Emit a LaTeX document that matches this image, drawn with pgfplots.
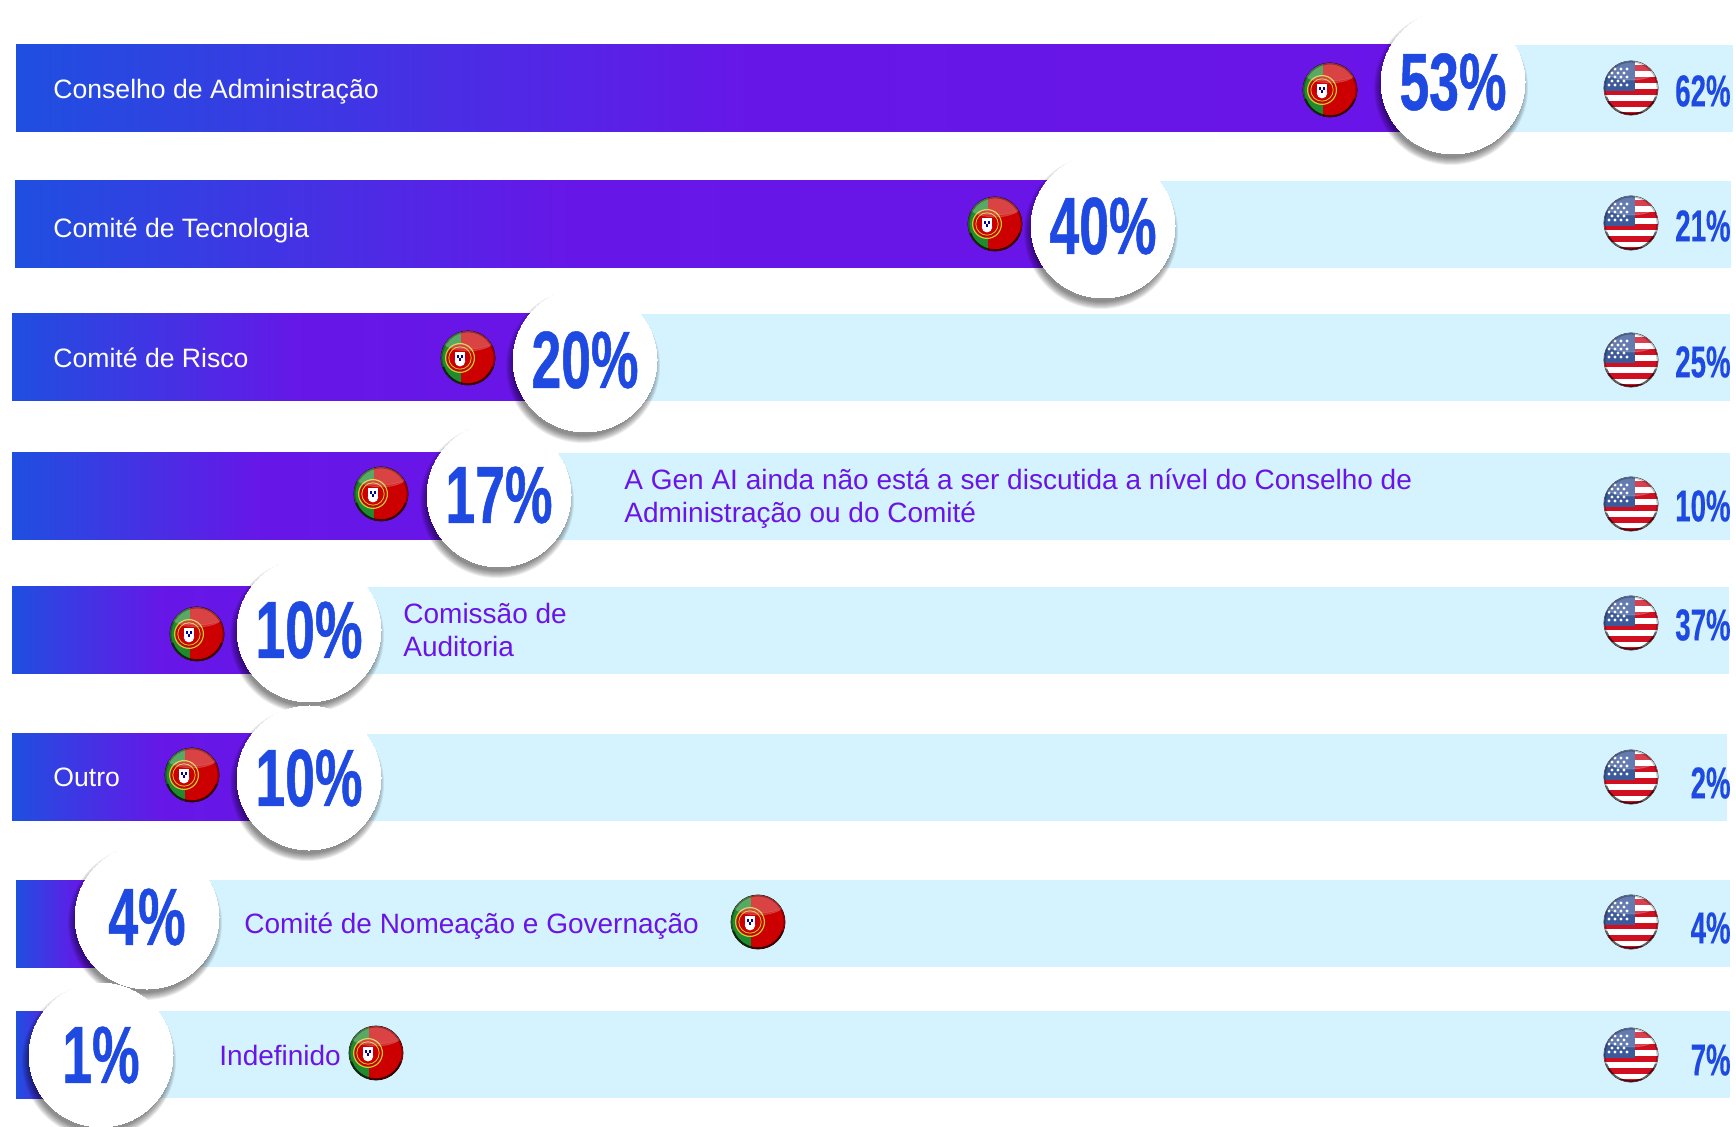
\documentclass[border=0pt]{standalone}
\usepackage{fontspec}
\setmainfont{Liberation Sans}
\newfontfamily\cond[FakeStretch=0.66,FakeBold=0.6]{Liberation Sans}
\newfontfamily\condsmall[FakeStretch=0.62,FakeBold=0.3]{Liberation Sans}
\usepackage{pgfplots}
\usepackage{pgfplotstable}
\pgfplotsset{compat=1.18}

\definecolor{barblue}{HTML}{1F4FE0}
\definecolor{barpurple}{HTML}{6A14E8}
\definecolor{barlight}{HTML}{D5F3FF}
\definecolor{numblue}{HTML}{1F4AE2}
\definecolor{ptred}{HTML}{CC0000}
\definecolor{ptgreen}{HTML}{1F8A2E}
\definecolor{usblue}{HTML}{3C5A9A}
\definecolor{usred}{HTML}{D01020}

% one row per category, positions in pixels of the 1736x1127 picture
% cx,cy circle; fx,fy flag PT; uy flag US; ul label US
\pgfplotstableread{
cx   cy   pt fx   fy   uy   ul   us
1453 82   53 1330 90   88   91   62
1103 226  40 995  224  223  226  21
585  360  20 468  358  360  362  25
499  495  17 381  494  504  506  10
309  630  10 197  634  623  625  37
309  778  10 192  775  777  783  2
147  917  4  758  922  922  928  4
101  1055 1  376  1053 1055 1060 7
}\datatable

\pgfdeclareplotmark{ptflag}{%
  \begin{scope}
    \clip (0,0) circle (13.5pt);
    \fill[ptred] (-14pt,-14pt) rectangle (14pt,14pt);
    \fill[ptgreen] (-14pt,-14pt) rectangle (-4pt,14pt);
    \fill[ptred] (-4pt,0pt) circle (6.6pt);
    \draw[yellow!80!black,line width=.6pt] (-4pt,0pt) circle (7.2pt);
    \draw[yellow!80!black,line width=.4pt] (-4pt,0pt) circle (5.6pt);
    \fill[white] (-6.4pt,2.6pt) rectangle (-1.6pt,-1.6pt);
    \fill[white] (-4pt,-1.6pt) circle (2.4pt);
    \fill[blue!60!black] (-5.4pt,.2pt) rectangle (-4.6pt,1.2pt);
    \fill[blue!60!black] (-3.4pt,.2pt) rectangle (-2.6pt,1.2pt);
    \fill[blue!60!black] (-4.4pt,-1.4pt) rectangle (-3.6pt,-.4pt);
    \fill[white,opacity=.16] (0pt,10pt) ellipse (14pt and 6.5pt);
    \fill[white,opacity=.12] (0pt,9pt) ellipse (13pt and 4.5pt);
    \draw[black,opacity=.3,line width=.8pt] (0,0) circle (13.2pt);
    \draw[black,opacity=.6,line width=1.1pt] (-160:13.2pt) arc (-160:-20:13.2pt);
  \end{scope}
}
\pgfdeclareplotmark{usflag}{%
  \begin{scope}
    \clip (0,0) circle (13.5pt);
    \fill[white] (-14pt,-14pt) rectangle (14pt,14pt);
    \fill[usred] (-14pt,11.2pt) rectangle (14pt,8.6pt);
    \fill[usred] (-14pt,5.4pt) rectangle (14pt,2.8pt);
    \fill[usred] (-14pt,-.6pt) rectangle (14pt,-3.2pt);
    \fill[usred] (-14pt,-6.6pt) rectangle (14pt,-9.2pt);
    \fill[usred] (-14pt,-12pt) rectangle (14pt,-14pt);
    \fill[usblue] (-14pt,-1pt) rectangle (1.5pt,14pt);
    \foreach \sx in {-11,-8,-5,-2}{
      \foreach \sy in {1.5,5.5,9.5}{
        \fill[white] (\sx pt,\sy pt) circle (.5pt);
      }
    }
    \foreach \sx in {-9.5,-6.5,-3.5}{
      \foreach \sy in {3.5,7.5}{
        \fill[white] (\sx pt,\sy pt) circle (.5pt);
      }
    }
    \fill[white,opacity=.2] (0pt,10pt) ellipse (14pt and 6pt);
    \draw[black,opacity=.25,line width=.8pt] (0,0) circle (13.2pt);
    \draw[black,opacity=.5,line width=1pt] (-160:13.2pt) arc (-160:-20:13.2pt);
  \end{scope}
}

% start, end, top, bottom, end of the coloured part
\newcommand{\rowbar}[5]{%
  \addplot[draw=none,fill=barlight] coordinates {(#1,#3) (#2,#3) (#2,#4) (#1,#4)} --cycle;
  \addplot[draw=none,left color=barblue,right color=barpurple,middle color=barpurple!94!barblue]
    coordinates {(#1,#3) (#5,#3) (#5,#4) (#1,#4)} --cycle;
}

\begin{document}
\begin{tikzpicture}
\useasboundingbox (0,0) rectangle (868pt,563.5pt);
\begin{axis}[
  at={(0,0)}, anchor=south west,
  scale only axis, width=868pt, height=563.5pt,
  xmin=0, xmax=1736, ymin=0, ymax=1127,
  y dir=reverse,
  hide axis,
  clip mode=global,
]
\rowbar{16}{1733}{45}{132}{1453}
\rowbar{15}{1731}{181}{268}{1103}
\rowbar{12}{1730}{314}{401}{585}
\rowbar{12}{1730}{453}{540}{499}
\rowbar{12}{1729}{587}{674}{309}
\rowbar{12}{1727}{734}{821}{309}
\rowbar{16}{1730}{880}{967}{147}
\rowbar{16}{1730}{1011}{1098}{101}

% soft shadow below the circles
\pgfplotsinvokeforeach{38.5,38,37.5,37,36.5,36,35.5,35}{
  \addplot[only marks,mark=*,mark size=#1pt,
    mark options={fill=black,draw opacity=0,line width=0pt,fill opacity=.07,xshift=-1pt,yshift=-3pt}]
    table[x=cx,y=cy] {\datatable};
}
% white circles with the Portuguese share
\addplot[only marks,mark=*,mark size=36pt,mark options={fill=white,draw=white,line width=0pt},
    point meta=explicit symbolic,
    nodes near coords={\pgfplotspointmeta\%},
    nodes near coords align={center},
    every node near coord/.append style={anchor=center,text=numblue,inner sep=0pt,
      font=\fontsize{40.5pt}{40.5pt}\cond\bfseries}]
    table[x=cx,y=cy,meta=pt] {\datatable};
% flags
\addplot[only marks,mark=ptflag] table[x=fx,y=fy] {\datatable};
\addplot[only marks,mark=usflag] table[x expr=1631,y=uy] {\datatable};
% US share
\addplot[only marks,mark=none,
    point meta=explicit symbolic,
    nodes near coords={\pgfplotspointmeta\%},
    nodes near coords align={center},
    every node near coord/.append style={anchor=east,text=numblue,inner sep=0pt,
      font=\fontsize{22.3pt}{22.3pt}\condsmall\bfseries}]
    table[x expr=1731,y=ul,meta=us] {\datatable};

% category names
\begin{scope}[every node/.style={anchor=west,inner sep=0pt,align=left,
    font=\fontsize{13.3pt}{16.6pt}\selectfont}]
\node[text=white] at (axis cs:53,92) {Conselho de Administração};
\node[text=white] at (axis cs:53,230) {Comité de Tecnologia};
\node[text=white] at (axis cs:53,358) {Comité de Risco};
\node[text=white] at (axis cs:53,777) {Outro};
\end{scope}
\begin{scope}[every node/.style={anchor=west,inner sep=0pt,align=left,text=barpurple,
    font=\fontsize{14pt}{16.6pt}\selectfont}]
\node at (axis cs:624,499) {A Gen AI ainda não está a ser discutida a nível do Conselho de\\Administração ou do Comité};
\node at (axis cs:403,630) {Comissão de\\Auditoria};
\node at (axis cs:244,926) {Comité de Nomeação e Governação};
\node at (axis cs:219,1055) {Indefinido};
\end{scope}
\end{axis}
\end{tikzpicture}
\end{document}
